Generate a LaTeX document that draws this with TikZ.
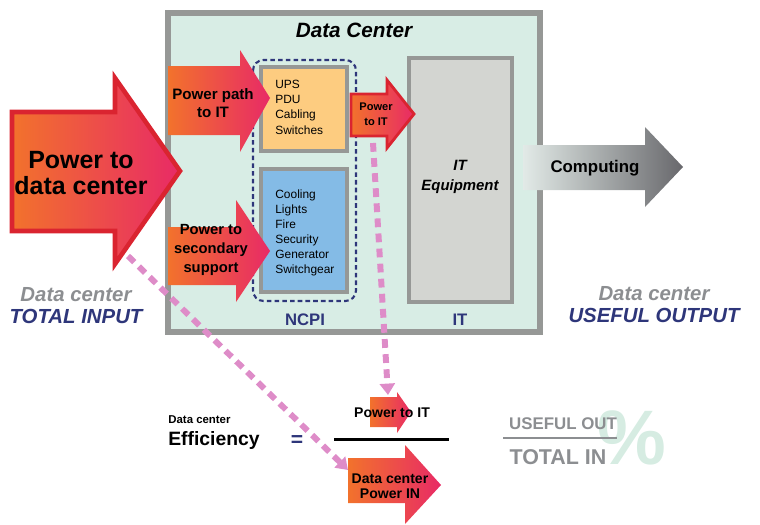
\documentclass[tikz,border=0pt]{standalone}
\usepackage{fontspec}
\setmainfont{Liberation Sans}
\usetikzlibrary{arrows.meta}
\definecolor{hotL}{RGB}{242,114,44}
\definecolor{hotR}{RGB}{232,42,102}
\definecolor{redB}{RGB}{218,36,48}
\definecolor{mint}{RGB}{216,237,229}
\definecolor{boxgray}{RGB}{150,152,150}
\definecolor{upsfill}{RGB}{253,204,128}
\definecolor{coolfill}{RGB}{132,187,230}
\definecolor{itfill}{RGB}{211,213,209}
\definecolor{navy}{RGB}{46,54,122}
\definecolor{pinkD}{RGB}{222,140,200}
\definecolor{grayT}{RGB}{140,142,145}
\definecolor{compL}{RGB}{226,234,231}
\definecolor{compR}{RGB}{104,104,108}
\definecolor{pctmint}{RGB}{214,236,226}

\begin{document}
\begin{tikzpicture}[x=0.02cm, y=0.02cm,
  hot/.style={left color=hotL, right color=hotR},
  frame/.style={draw=boxgray, line width=2.3pt},
  pinkdash/.style={draw=pinkD, line width=3.4pt, dash pattern=on 5pt off 3.6pt,
    -{Triangle[width=8.5pt,length=6.5pt]}},
  lbl/.style={font=\fontsize{9.5pt}{11pt}\selectfont\bfseries, text=navy},
  listtxt/.style={font=\fontsize{6.8pt}{8.6pt}\selectfont, align=left, anchor=north west},
  side/.style={font=\fontsize{11.6pt}{12.6pt}\selectfont\bfseries\itshape, align=center, text=navy}]
\tikzset{every node/.append style={inner sep=0pt}}
\useasboundingbox (0,0) rectangle (760,-524);
% data center frame
\draw [boxgray, line width=3.4pt, fill=mint] (168,-13) rectangle (540,-332);
\node (dctitle) [font=\fontsize{11.8pt}{13pt}\selectfont\bfseries\itshape] at (354,-30) {Data Center};
% NCPI group
\draw [navy, line width=1.2pt, dash pattern=on 2.6pt off 1.8pt, rounded corners=6pt] (253,-60) rectangle (356,-301);
\draw [frame, fill=upsfill] (261,-67) rectangle (347,-151);
\draw [frame, fill=coolfill] (261,-169) rectangle (347,-292);
\node (ups) [listtxt] at (275,-80) {UPS\\PDU\\Cabling\\Switches};
\node (cool) [listtxt] at (275,-189) {Cooling\\Lights\\Fire\\Security\\Generator\\Switchgear};
\node (ncpi) [lbl] at (305,-320) {NCPI};
% IT equipment
\draw [frame, fill=itfill] (409,-58) rectangle (512,-302);
\node (itequip) [font=\fontsize{8.5pt}{11.3pt}\selectfont\bfseries\itshape, align=center] at (460,-177) {IT\\Equipment};
\node (itlbl) [lbl] at (460,-320) {IT};
% input arrows
\shadedraw [hot, draw=redB, line width=2.6pt] (12,-112) -- (115,-112) -- (115,-78) -- (180,-171) -- (115,-264) -- (115,-231) -- (12,-231) -- cycle;
\node (pdc) [font=\fontsize{14.2pt}{15.3pt}\selectfont\bfseries, align=center] at (81,-173) {Power to\\data center};
\shade [hot] (168,-66) -- (240,-66) -- (240,-50) -- (270,-98) -- (240,-152) -- (240,-135) -- (168,-135) -- cycle;
\node (ppath) [font=\fontsize{8.6pt}{10.2pt}\selectfont\bfseries, align=center] at (213,-103) {Power path\\to IT};
\shade [hot] (168,-227) -- (236,-227) -- (236,-200) -- (270,-251) -- (236,-302) -- (236,-285) -- (168,-285) -- cycle;
\node (psec) [font=\fontsize{8.4pt}{10.6pt}\selectfont\bfseries, align=center] at (211,-250) {Power to\\secondary\\support};
\shadedraw [hot, draw=redB, line width=1.6pt] (351,-94) -- (387,-94) -- (387,-80) -- (414,-114) -- (387,-148) -- (387,-136) -- (351,-136) -- cycle;
\node (pit) [font=\fontsize{6.3pt}{8.5pt}\selectfont\bfseries, align=center] at (376,-114) {Power\\to IT};
% output arrow
\shade [left color=compL, right color=compR] (523,-145) -- (645,-145) -- (645,-127) -- (683,-167) -- (645,-207) -- (645,-190) -- (523,-190) -- cycle;
\node (comp) [font=\fontsize{9.6pt}{11pt}\selectfont\bfseries] at (595,-168) {Computing};
% side labels
\node (tin) [side] at (76,-306) {{\color{grayT}Data center}\\TOTAL INPUT};
\node (uout) [side] at (654,-305) {{\color{grayT}Data center}\\USEFUL OUTPUT};
% efficiency formula
\node (effsmall) [anchor=west, font=\fontsize{6.5pt}{7pt}\selectfont\bfseries] at (168,-420) {Data center};
\node (eff) [anchor=west, font=\fontsize{11pt}{12pt}\selectfont\bfseries] at (168,-440) {Efficiency};
\node (eq) [font=\fontsize{12pt}{13pt}\selectfont\bfseries, text=navy] at (297,-441) {=};
\shade [hot] (370,-397) -- (397,-397) -- (397,-392) -- (411,-412) -- (397,-433) -- (397,-427) -- (370,-427) -- cycle;
\node (numer) [font=\fontsize{8pt}{9pt}\selectfont\bfseries] at (392,-413) {Power to IT};
\draw [line width=1.7pt] (334,-439) -- (449,-439);
\shade [hot] (348,-458) -- (405,-458) -- (405,-445) -- (441,-485) -- (405,-524) -- (405,-503) -- (348,-503) -- cycle;
\node (denom) [font=\fontsize{8pt}{8.6pt}\selectfont\bfseries, align=center] at (390,-486) {Data center\\Power IN};
\node (pct) [font=\fontsize{44pt}{46pt}\selectfont\bfseries, text=pctmint] at (632,-438) {\%};
\node (usefulout) [font=\fontsize{9.6pt}{11pt}\selectfont\bfseries, text=grayT] at (563,-424) {USEFUL OUT};
\draw [grayT, line width=1.6pt] (503,-438) -- (617,-438);
\node (totalin) [font=\fontsize{12.2pt}{13pt}\selectfont\bfseries, text=grayT] at (558,-457) {TOTAL IN};
% pink guides
\coordinate (vstart) at (373,-143);
\coordinate (vend) at (388,-395);
\coordinate (dstart) at (128,-256);
\coordinate (dend) at (348,-470);
\draw [pinkdash] (vstart) -- (vend);
\draw [pinkdash] (dstart) -- (dend);
\end{tikzpicture}
\end{document}
